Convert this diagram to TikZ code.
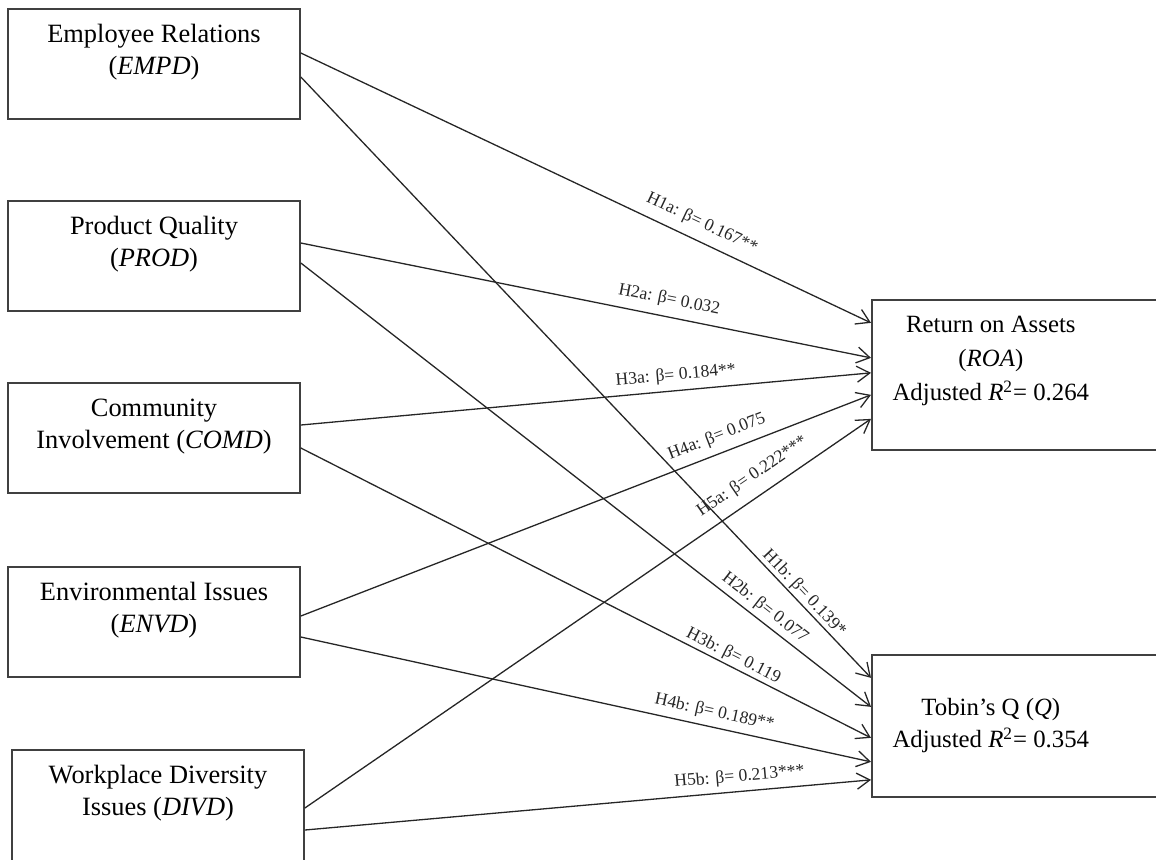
\documentclass[tikz,border=0pt]{standalone}
\usepackage{fontspec}
\setmainfont{Liberation Serif}
\usetikzlibrary{arrows.meta, positioning}

\begin{document}
\begin{tikzpicture}[
  x=0.5pt, y=-0.5pt,
  varbox/.style={rectangle, draw=black!75, line width=0.85pt, align=center,
                 minimum width=146pt, inner sep=0pt,
                 text height=32.5pt, text depth=22.5pt,
                 font=\fontsize{13.2}{16}\selectfont},
  perfbox/.style={rectangle, draw=black!75, line width=0.85pt,
                  minimum width=150pt, inner sep=0pt,
                  font=\fontsize{12.4}{17}\selectfont},
  link/.style={-{Straight Barb[length=6.5pt, width=8pt]}, line width=0.65pt, color=black!85},
  coef/.style={sloped, inner sep=0.5pt, font=\fontsize{8.8}{10}\selectfont}
]

\useasboundingbox (0,0) rectangle (1156,859);
\clip (0,0) rectangle (1156,859);

% CSR dimensions
\node[varbox] (emp) at (154,64) {Employee Relations\\(\textit{EMPD})};
\node[varbox, below=40.15pt of emp] (prod) {Product Quality\\(\textit{PROD})};
\node[varbox, below=35.15pt of prod] (com) {Community\\Involvement (\textit{COMD})};
\node[varbox, below=36.15pt of com] (env) {Environmental Issues\\(\textit{ENVD})};
\node[varbox, below=35.65pt of env, xshift=2pt, text depth=24pt] (div) {Workplace Diversity\\Issues (\textit{DIVD})};

% performance measures
\node[perfbox, anchor=north west, text height=16.5pt, text depth=58.5pt] (roa) at (871,299) {%
  \begin{tabular}[t]{@{}c@{}}Return on Assets\\(\textit{ROA})\\Adjusted \textit{R}\textsuperscript{2}= 0.264\end{tabular}\rule{31pt}{0pt}};
\node[perfbox, below=101.65pt of roa, text height=30.5pt, text depth=40.5pt,
      font=\fontsize{12.4}{16}\selectfont] (tobin) {%
  \begin{tabular}[t]{@{}c@{}}Tobin’s Q (\textit{Q})\\Adjusted \textit{R}\textsuperscript{2}= 0.354\end{tabular}\rule{31pt}{0pt}};

\draw[link] ([yshift=5.5pt]emp.east) -- node[coef, pos=.69, above=4pt] {H1a: β= 0.167**} ([yshift=26pt]roa.west);
\draw[link] ([yshift=-6.5pt]emp.east) -- node[coef, pos=.87, above=0pt] {H1b: β= 0.139*} ([yshift=24pt]tobin.west);
\draw[link] ([yshift=6.5pt]prod.east) -- node[coef, pos=.64, above=3.6pt] {H2a: β= 0.032} ([yshift=8.5pt]roa.west);
\draw[link] ([yshift=-3.5pt]prod.east) -- node[coef, pos=.80, above=1.6pt] {H2b: β= 0.077} ([yshift=9.5pt]tobin.west);
\draw[link] ([yshift=6.5pt]com.east) -- node[coef, pos=.66, above=2.6pt] {H3a: β= 0.184**} ([yshift=1pt]roa.west);
\draw[link] ([yshift=-5pt]com.east) -- node[coef, pos=.75, above=0.5pt] {H3b: β= 0.119} ([yshift=-6pt]tobin.west);
\draw[link] ([yshift=3pt]env.east) -- node[coef, pos=.74, above=3.4pt] {H4a: β= 0.075} ([yshift=-10pt]roa.west);
\draw[link] ([yshift=-7.5pt]env.east) -- node[coef, pos=.72, above=2.5pt] {H4b: β= 0.189**} ([yshift=-18pt]tobin.west);
\draw[link] ([yshift=-0.75pt]div.east) -- node[coef, pos=.81, above=5pt] {H5a: β= 0.222***} ([yshift=-22pt]roa.west);
\draw[link] ([yshift=-11.75pt]div.east) -- node[coef, pos=.77, above=2.4pt] {H5b: β= 0.213***} ([yshift=-27pt]tobin.west);

\end{tikzpicture}
\end{document}
